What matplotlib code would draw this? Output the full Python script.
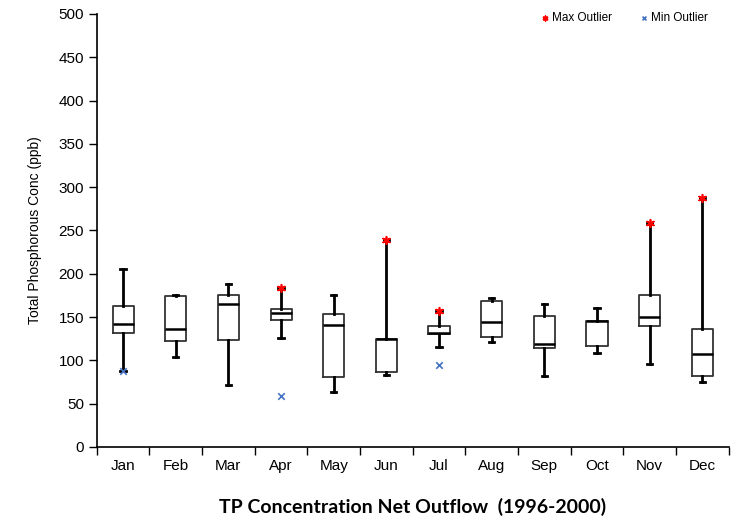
import numpy as np
import matplotlib
matplotlib.use("Agg")
import matplotlib.pyplot as plt
from matplotlib import font_manager

# Monthly box statistics (ppb)
months = ["Jan", "Feb", "Mar", "Apr", "May", "Jun",
          "Jul", "Aug", "Sep", "Oct", "Nov", "Dec"]
whisker_low = [88, 104, 71, 126, 63, 83, 115, 121, 82, 108, 96, 75]
box_low = [132, 122, 124, 146, 81, 87, 130, 127, 114, 116, 140, 82]
median = [142, 136, 165, 155, 141, 125, 132, 144, 119, 145, 150, 107]
box_high = [163, 174, 175, 159, 153, 125, 140, 168, 151, 145, 175, 136]
whisker_high = [205, 175, 188, 183, 176, 239, 157, 172, 165, 160, 259, 288]

# outliers: (month index, value)
max_out_month = [3, 5, 6, 10, 11]
max_out_value = [183, 239, 157, 259, 288]
min_out_month = [0, 3, 6]
min_out_value = [88, 59, 94]

names = {f.name for f in font_manager.fontManager.ttflist}
narrow = "Liberation Sans Narrow" if "Liberation Sans Narrow" in names else "Liberation Sans"

fig = plt.figure(figsize=(7.4, 5.32), dpi=100)
ax = fig.add_axes([0.1307, 0.16, 0.854, 0.8137])

stats = []
for i in range(len(months)):
    stats.append(dict(med=median[i], q1=box_low[i], q3=box_high[i],
                      whislo=whisker_low[i], whishi=whisker_high[i],
                      fliers=[], label=months[i]))

pos = np.arange(len(months)) + 0.5
ax.bxp(stats, positions=pos, widths=0.4, showfliers=False,
       boxprops=dict(color="#333333", linewidth=1.3),
       medianprops=dict(color="black", linewidth=1.8),
       whiskerprops=dict(color="black", linewidth=2.0),
       capprops=dict(color="black", linewidth=2.0),
       capwidths=0.1)

ax.scatter(np.array(max_out_month) + 0.5, max_out_value, marker=(6, 2, 0),
           s=30, color="red", linewidths=1.2, zorder=5, label="Max Outlier")
ax.scatter(np.array(min_out_month) + 0.5, min_out_value, marker="x",
           s=22, color="#4472C4", linewidths=1.2, zorder=5, label="Min Outlier")

ax.set_xlim(0, 12)
ax.set_ylim(0, 500)
ax.set_yticks(np.arange(0, 501, 50))
ax.set_xticks(np.arange(0, 13))
ax.set_xticklabels([])
ax.set_xticks(pos, minor=True)
ax.set_xticklabels(months, minor=True, fontsize=11, family=narrow)
ax.tick_params(axis="x", which="minor", length=0, pad=9)
ax.tick_params(axis="x", which="major", length=6, direction="out", width=1)
ax.tick_params(axis="y", length=6, direction="out", width=1, pad=3)
for t in ax.get_yticklabels():
    t.set_fontsize(11)
    t.set_family(narrow)

for s in ["top", "right"]:
    ax.spines[s].set_visible(False)
for s in ["left", "bottom"]:
    ax.spines[s].set_linewidth(1.2)

ax.set_ylabel("Total Phosphorous Conc (ppb)", fontsize=10,
              family="Liberation Sans", labelpad=12)
ax.set_xlabel("TP Concentration Net Outflow  (1996-2000)", fontsize=14,
              fontweight="bold", family=["Lato", "DejaVu Sans"], labelpad=18)

ax.legend(loc="center right", bbox_to_anchor=(0.967, 0.991), ncol=2, frameon=False,
          prop=dict(family=narrow, size=8.5), handletextpad=0.1, handlelength=1.0,
          columnspacing=2.2, markerscale=0.6, borderaxespad=0, borderpad=0)

fig.savefig("out.png", dpi=100, facecolor="white")
